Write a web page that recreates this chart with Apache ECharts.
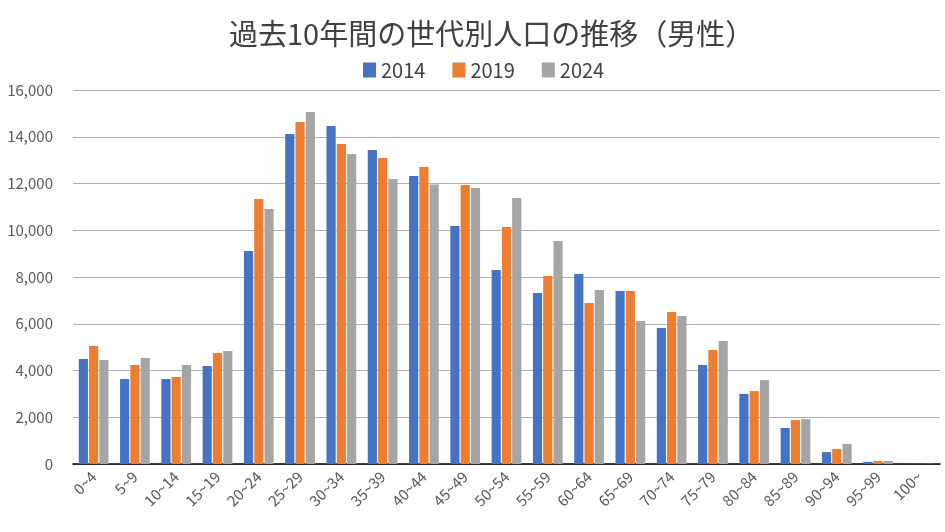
<!DOCTYPE html>
<html><head><meta charset="utf-8">
<script src="https://cdn.jsdelivr.net/npm/echarts@6/dist/echarts.min.js"></script>
<style>html,body{margin:0;padding:0;background:#fff}#c{width:945px;height:532px}</style>
</head><body><div id="c"></div>
<script>
const categories = ['0~4','5~9','10~14','15~19','20~24','25~29','30~34','35~39','40~44','45~49','50~54','55~59','60~64','65~69','70~74','75~79','80~84','85~89','90~94','95~99','100~'];
const s2014 = [4490,3640,3640,4190,9110,14120,14460,13430,12320,10180,8300,7320,8130,7400,5820,4240,3000,1540,510,90,4];
const s2019 = [5050,4240,3720,4750,11340,14630,13690,13090,12710,11940,10140,8040,6890,7400,6500,4880,3120,1880,640,130,8];
const s2024 = [4450,4540,4240,4830,10910,15060,13260,12190,11960,11810,11380,9540,7440,6120,6330,5260,3590,1920,860,130,12];
const yTicks = [0,2000,4000,6000,8000,10000,12000,14000,16000];

const chart = echarts.init(document.getElementById('c'));
const font = '"Noto Sans CJK JP","Noto Sans",sans-serif';
const mk = (name, data, color) => ({name, type:'bar', data, barGap:'12%', barCategoryGap:'28%', itemStyle:{color}});
chart.setOption({
  animation:false,
  title:{text:'過去10年間の世代別人口の推移（男性）', left:224, top:14,
    textStyle:{fontFamily:font, fontSize:29, fontWeight:'normal', color:'#404040'}},
  legend:{top:55, left:358, itemWidth:13, itemHeight:15, itemGap:27, icon:'rect',
    textStyle:{fontFamily:font, fontSize:20, color:'#404040'}},
  grid:{left:73, right:5, top:90, bottom:68},
  xAxis:{type:'category', data:categories,
    axisLine:{lineStyle:{color:'#000', width:1.5}}, axisTick:{show:false},
    axisLabel:{rotate:45, interval:0, fontFamily:font, fontSize:15, color:'#595959', margin:10}},
  yAxis:{type:'value', min:yTicks[0], max:yTicks[yTicks.length-1], interval:2000,
    axisLine:{show:false}, axisTick:{show:false},
    splitLine:{lineStyle:{color:'#b0b0b0', width:1.2}},
    axisLabel:{fontFamily:font, fontSize:15, color:'#595959', margin:20,
      formatter:v=>v.toLocaleString('en-US')}},
  series:[mk('2014',s2014,'#4472C4'), mk('2019',s2019,'#ED7D31'), mk('2024',s2024,'#A5A5A5')]
});
</script></body></html>
